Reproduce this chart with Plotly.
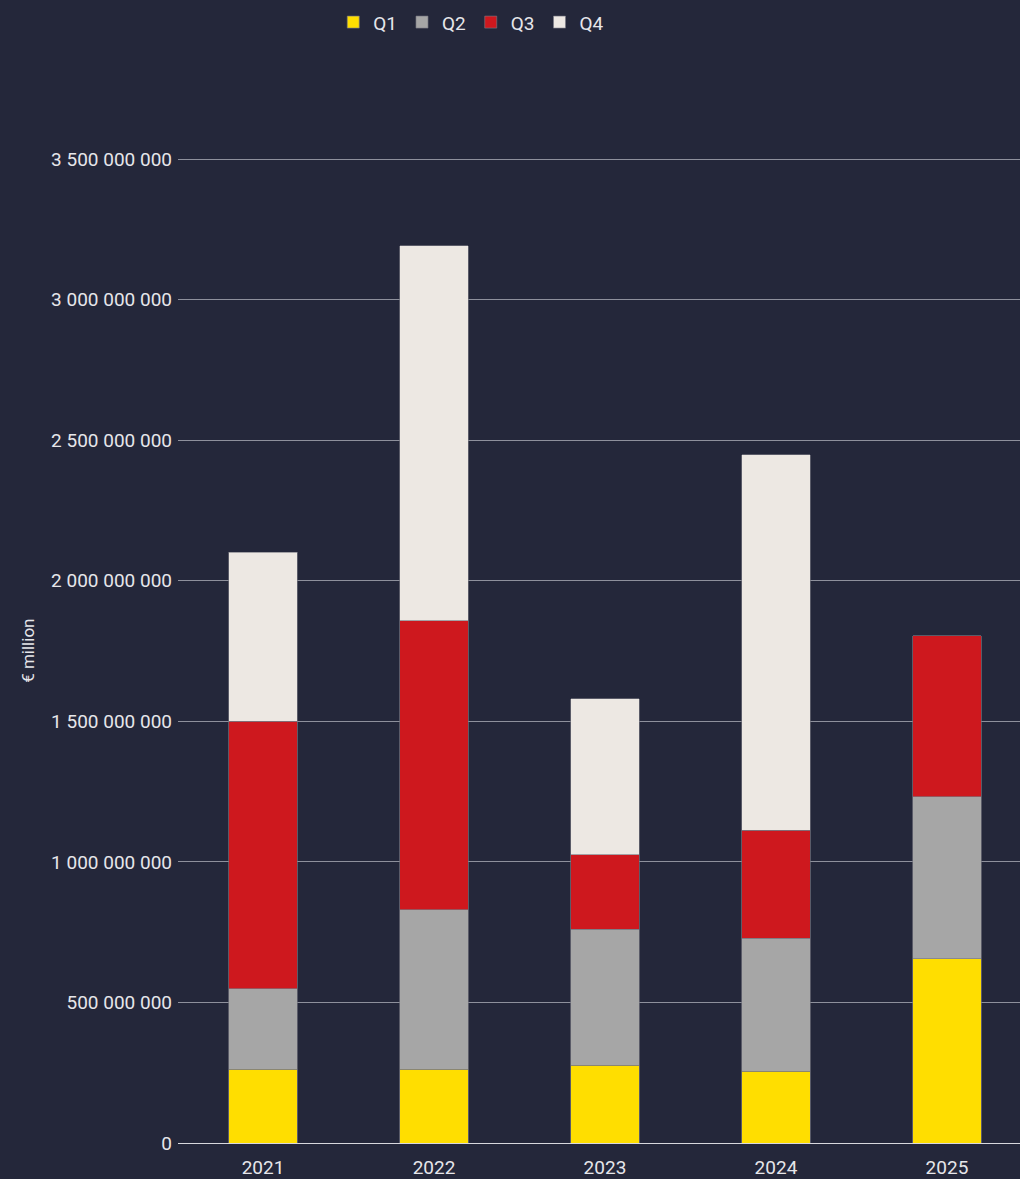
import plotly.graph_objects as go

years = ["2021", "2022", "2023", "2024", "2025"]
q1 = [263_000_000, 263_000_000, 277_000_000, 256_000_000, 655_000_000]
q2 = [285_000_000, 566_000_000, 484_000_000, 473_000_000, 576_000_000]
q3 = [953_000_000, 1_028_000_000, 264_000_000, 384_000_000, 573_000_000]
q4 = [601_000_000, 1_334_000_000, 555_000_000, 1_335_000_000, None]

series = [("Q1", q1, "#FFDE00"), ("Q2", q2, "#A6A6A6"),
          ("Q3", q3, "#CE181E"), ("Q4", q4, "#EDE8E3")]

fig = go.Figure()
for name, vals, col in series:
    fig.add_trace(go.Bar(x=years, y=vals, name=name,
                         marker=dict(color=col, line=dict(color="rgba(120,120,130,0.8)", width=0.8))))

font = "Roboto, Inter, sans-serif"
txt = "#E6E6EA"
fig.update_layout(
    width=1020, height=1179,
    barmode="stack", bargap=0.6,
    paper_bgcolor="#24273A", plot_bgcolor="#24273A",
    margin=dict(l=178, r=0, t=100, b=33),
    separators=". ",
    font=dict(family=font, color=txt, size=19),
    showlegend=True,
    legend=dict(orientation="h", x=0.462, xanchor="center", xref="container",
                y=0.965, yanchor="bottom", yref="container",
                font=dict(size=19, color=txt), traceorder="normal",
                bgcolor="rgba(0,0,0,0)"),
    xaxis=dict(range=[-0.497, 4.427], showgrid=False, showline=True, linecolor="#D8D8DE",
               linewidth=1, ticks="", ticklabelstandoff=7,
               tickfont=dict(size=19, color=txt)),
    yaxis=dict(range=[0, 3.71e9], tickvals=[0, 5e8, 1e9, 1.5e9, 2e9, 2.5e9, 3e9, 3.5e9],
               tickformat=",d", gridcolor="#8E909C", gridwidth=1, zeroline=False,
               ticks="", ticklabelstandoff=5, automargin=False,
               tickfont=dict(size=19, color=txt)),
)
fig.add_annotation(text="€ million", xref="paper", yref="paper", x=-0.178,
                   y=0.472, showarrow=False, textangle=-90,
                   font=dict(size=17, color=txt), xanchor="center", yanchor="middle")
fig.write_html("out.html", config={"displayModeBar": False},
               post_script="document.body.style.margin='0';")
